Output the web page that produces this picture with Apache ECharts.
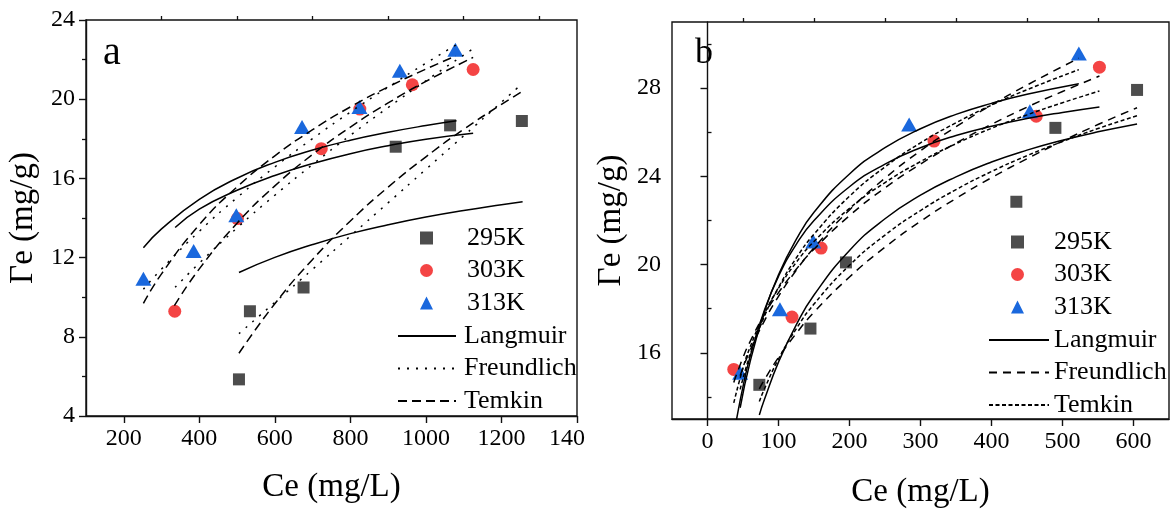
<!DOCTYPE html>
<html>
<head>
<meta charset="utf-8">
<script src="https://cdn.jsdelivr.net/npm/echarts@6/dist/echarts.min.js"></script>
<style>
  html, body { margin: 0; padding: 0; background: #fff; }
  #chart { width: 1175px; height: 514px; }
</style>
</head>
<body>
<div id="chart"></div>
<script>
// ---------- Panel a: measured adsorption points (Ce mg/L, Γe mg/g) ----------
const a295 = [[505,5.85],[534,9.29],[676,10.49],[920,17.6],[1064,18.68],[1254,18.9]];
const a303 = [[335,9.29],[501,13.97],[723,17.5],[825,19.5],[964,20.73],[1125,21.5]];
const a313 = [[252,10.93],[385,12.33],[498,14.14],[672,18.6],[824,19.6],[931,21.44],[1078,22.5]];

// Panel a: fitted isotherm curves
const aLangmuir295 = [[505,11.25],[600,12.01],[700,12.66],[800,13.21],[900,13.66],[1000,14.05],[1100,14.38],[1200,14.67],[1256,14.82]];
const aLangmuir303 = [[336,13.52],[400,14.45],[500,15.4],[600,16.15],[700,16.75],[800,17.25],[900,17.65],[1000,17.98],[1125,18.28]];
const aLangmuir313 = [[252,12.5],[300,13.45],[400,14.94],[500,16.01],[600,16.81],[700,17.43],[800,17.93],[900,18.33],[1000,18.67],[1081,18.91]];
const aFreundlich295 = [[505,8.16],[600,9.74],[700,11.41],[800,13.09],[900,14.77],[1000,16.46],[1100,18.15],[1200,19.85],[1254,20.77]];
const aFreundlich303 = [[336,10.5],[400,11.72],[500,13.5],[600,15.15],[700,16.7],[800,18.18],[900,19.58],[1000,20.93],[1125,22.55]];
const aFreundlich313 = [[252,10.4],[300,11.42],[400,13.33],[500,15.03],[600,16.58],[700,18.01],[800,19.35],[900,20.61],[1000,21.82],[1079,22.73]];
const aTemkin295 = [[505,7.17],[600,9.67],[700,11.91],[800,13.85],[900,15.56],[1000,17.09],[1100,18.48],[1200,19.74],[1254,20.38]];
const aTemkin303 = [[334,9.57],[400,11.43],[500,13.74],[600,15.62],[700,17.21],[800,18.59],[900,19.81],[1000,20.9],[1125,22.11]];
const aTemkin313 = [[252,9.69],[300,11.18],[400,13.66],[500,15.57],[600,17.14],[700,18.46],[800,19.61],[900,20.62],[1000,21.52],[1079,22.18]];

// ---------- Panel b: measured adsorption points ----------
const b295 = [[73,14.55],[145,17.1],[195,20.1],[435,22.85],[490,26.2],[605,27.92]];
const b303 = [[37,15.25],[119,17.62],[160,20.75],[319,25.6],[463,26.73],[552,28.95]];
const b313 = [[46,15.1],[102,17.98],[149,21.05],[284,26.35],[454,26.95],[523,29.57]];

// Panel b: fitted isotherm curves
const bLangmuir295 = [[73,13.18],[80,13.87],[100,15.58],[125,17.27],[150,18.62],[200,20.64],[250,22.08],[300,23.15],[350,23.98],[400,24.65],[450,25.19],[500,25.64],[550,26.02],[605,26.38]];
const bLangmuir303 = [[37,12.26],[41,13.0],[50,14.47],[60,15.83],[80,17.92],[100,19.47],[125,20.92],[150,22.0],[200,23.53],[250,24.56],[300,25.3],[350,25.85],[400,26.27],[450,26.62],[500,26.9],[552,27.15]];
const bLangmuir313 = [[46,13.51],[60,15.59],[80,17.84],[100,19.54],[125,21.14],[150,22.37],[200,24.11],[250,25.3],[300,26.16],[350,26.81],[400,27.31],[450,27.72],[523,28.2]];
const bFreundlich295 = [[73,14.37],[80,14.77],[100,15.79],[125,16.88],[150,17.84],[200,19.44],[250,20.79],[300,21.96],[350,23.0],[400,23.94],[450,24.8],[500,25.6],[550,26.35],[605,27.11]];
const bFreundlich303 = [[37,14.66],[50,15.79],[60,16.51],[80,17.73],[100,18.73],[125,19.79],[150,20.7],[200,22.22],[250,23.48],[300,24.56],[350,25.51],[400,26.36],[450,27.14],[500,27.85],[552,28.55]];
const bFreundlich313 = [[46,14.96],[60,16.11],[80,17.44],[100,18.56],[125,19.74],[150,20.76],[200,22.48],[250,23.92],[300,25.16],[350,26.25],[400,27.24],[450,28.14],[523,29.36]];
const bTemkin295 = [[73,13.79],[80,14.35],[100,15.72],[125,17.09],[150,18.21],[200,19.97],[250,21.34],[300,22.45],[350,23.4],[400,24.22],[450,24.94],[500,25.58],[550,26.17],[605,26.75]];
const bTemkin303 = [[37,13.73],[50,15.31],[60,16.26],[80,17.76],[100,18.93],[125,20.1],[150,21.05],[200,22.55],[250,23.72],[300,24.67],[350,25.48],[400,26.18],[450,26.79],[500,27.34],[552,27.87]];
const bTemkin313 = [[46,14.34],[60,15.92],[80,17.64],[100,18.97],[125,20.3],[150,21.38],[200,23.1],[250,24.43],[300,25.52],[350,26.43],[400,27.23],[450,27.93],[523,28.84]];

// ---------- Tick values ----------
const aXMajor = [200,400,600,800,1000,1200,1400];
const aXMinor = [300,500,700,900,1100,1300];
const bXMajor = [0,100,200,300,400,500,600];
const bXMinor = [50,150,250,350,450,550];
const bYMajor = [16,20,24,28];
const bYMinor = [14,18,22,26,30];

const FONT = '"Liberation Serif", "Times New Roman", serif';
const INK = '#111';
const pointNames = ['295K','303K','313K'];
const modelNames = ['Langmuir','Freundlich','Temkin'];

const chart = echarts.init(document.getElementById('chart'), null, {renderer: 'canvas'});

// tick labels go through a rich token so the serif face is used everywhere
const tickRich = {
  t: {fontFamily: FONT, fontSize: 24, color: '#000'},
  c: {fontFamily: FONT, fontSize: 24, color: '#000', padding: [0, 20, 0, 0]}
};
function tickFormatter(v) {
  if (v === 1400) return '{c|140}';
  return '{t|' + v + '}';
}
function labelStyle(extra) {
  return Object.assign({
    show: true, color: '#000', fontFamily: FONT, fontSize: 24, margin: 11,
    formatter: tickFormatter, rich: tickRich
  }, extra || {});
}
const nameStyle = {color: '#000', fontFamily: FONT, fontSize: 33};
const axisLine = {show: true, lineStyle: {color: INK, width: 1.4}};

function majorX(grid, min, max, ticks, gap) {
  return {
    type: 'value', gridIndex: grid, min: min, max: max,
    axisLine: axisLine,
    axisTick: {show: true, inside: false, length: 7, customValues: ticks, lineStyle: {color: INK, width: 1.4}},
    axisLabel: labelStyle({customValues: ticks}),
    splitLine: {show: false},
    name: 'Ce (mg/L)', nameLocation: 'middle', nameGap: gap, nameTextStyle: nameStyle
  };
}
function minorAxis(grid, min, max, ticks) {
  return {
    type: 'value', gridIndex: grid, min: min, max: max,
    axisLine: {show: false},
    axisTick: {show: true, inside: false, length: 4, customValues: ticks, lineStyle: {color: INK, width: 1.3}},
    axisLabel: {show: false},
    splitLine: {show: false}
  };
}

const scatterStyle = {
  '295K': {symbol: 'rect', symbolSize: 12, color: '#4d4d4d'},
  '303K': {symbol: 'circle', symbolSize: 13, color: '#f44444'},
  '313K': {symbol: 'triangle', symbolSize: [16, 14], color: '#1a68dd'}
};
function scatter(name, key, data, xi, yi) {
  const s = scatterStyle[key];
  return {
    type: 'scatter', name: name, data: data, xAxisIndex: xi, yAxisIndex: yi,
    symbol: s.symbol, symbolSize: s.symbolSize, itemStyle: {color: s.color, opacity: 1}, z: 2
  };
}
function curve(name, data, dash, xi, yi) {
  return {
    type: 'line', name: name, data: data, xAxisIndex: xi, yAxisIndex: yi,
    smooth: 0.5, symbol: 'none', showSymbol: false,
    lineStyle: {color: '#000', width: 1.5, type: dash, cap: 'butt'},
    itemStyle: {color: '#000'}, z: 3, silent: true
  };
}

const dashA = {Langmuir: 'solid', Freundlich: [2, 7], Temkin: [9, 5]};
const dashB = {Langmuir: 'solid', Freundlich: [8, 6], Temkin: [4, 2.5]};

const series = [
  scatter('295K', '295K', a295, 0, 0),
  scatter('303K', '303K', a303, 0, 0),
  scatter('313K', '313K', a313, 0, 0),
  curve('Langmuir', aLangmuir295, dashA.Langmuir, 0, 0),
  curve('Langmuir', aLangmuir303, dashA.Langmuir, 0, 0),
  curve('Langmuir', aLangmuir313, dashA.Langmuir, 0, 0),
  curve('Freundlich', aFreundlich295, dashA.Freundlich, 0, 0),
  curve('Freundlich', aFreundlich303, dashA.Freundlich, 0, 0),
  curve('Freundlich', aFreundlich313, dashA.Freundlich, 0, 0),
  curve('Temkin', aTemkin295, dashA.Temkin, 0, 0),
  curve('Temkin', aTemkin303, dashA.Temkin, 0, 0),
  curve('Temkin', aTemkin313, dashA.Temkin, 0, 0),

  scatter('b:295K', '295K', b295, 2, 1),
  scatter('b:303K', '303K', b303, 2, 1),
  scatter('b:313K', '313K', b313, 2, 1),
  curve('b:Langmuir', bLangmuir295, dashB.Langmuir, 2, 1),
  curve('b:Langmuir', bLangmuir303, dashB.Langmuir, 2, 1),
  curve('b:Langmuir', bLangmuir313, dashB.Langmuir, 2, 1),
  curve('b:Freundlich', bFreundlich295, dashB.Freundlich, 2, 1),
  curve('b:Freundlich', bFreundlich303, dashB.Freundlich, 2, 1),
  curve('b:Freundlich', bFreundlich313, dashB.Freundlich, 2, 1),
  curve('b:Temkin', bTemkin295, dashB.Temkin, 2, 1),
  curve('b:Temkin', bTemkin303, dashB.Temkin, 2, 1),
  curve('b:Temkin', bTemkin313, dashB.Temkin, 2, 1)
];

const stripPrefix = function (n) { return n.replace(/^b:/, ''); };
function legendText(padLeft) {
  return {color: '#000', fontFamily: FONT, fontSize: 26, lineHeight: 26, padding: [0, 0, 0, padLeft]};
}
// symbol legend: icons only as wide as the marker, text pushed right to line up with the curve legend
function pointLegend(left, top, prefix, pad) {
  return {
    orient: 'vertical', left: left, top: top, padding: 0, itemWidth: 13, itemHeight: 13, itemGap: 6.5,
    data: pointNames.map(function (n) { return prefix + n; }), selectedMode: false,
    textStyle: legendText(pad), formatter: stripPrefix
  };
}
function modelLegend(left, top, prefix, width, pad) {
  return {
    orient: 'vertical', left: left, top: top, padding: 0, itemWidth: width, itemHeight: 13, itemGap: 6.5,
    data: modelNames.map(function (n) { return prefix + n; }), selectedMode: false,
    itemStyle: {opacity: 0}, textStyle: legendText(pad), formatter: stripPrefix
  };
}

const option = {
  animation: false,
  backgroundColor: '#fff',
  textStyle: {fontFamily: FONT},
  grid: [
    {left: 86, top: 20, width: 491, height: 396, show: true, borderColor: INK, borderWidth: 1.4, containLabel: false},
    {left: 672, top: 22, width: 497, height: 399, show: true, borderColor: INK, borderWidth: 1.4, containLabel: false}
  ],
  xAxis: [
    majorX(0, 100, 1400, aXMajor, 55),
    minorAxis(0, 100, 1400, aXMinor),
    majorX(1, -50, 650, bXMajor, 57),
    minorAxis(1, -50, 650, bXMinor)
  ],
  yAxis: [
    {
      type: 'value', gridIndex: 0, min: 4, max: 24, interval: 4,
      axisLine: axisLine,
      axisTick: {show: true, inside: false, length: 7, lineStyle: {color: INK, width: 1.4}},
      minorTick: {show: true, splitNumber: 2, length: 4, lineStyle: {color: INK, width: 1.3}},
      axisLabel: labelStyle(),
      splitLine: {show: false}, minorSplitLine: {show: false},
      name: 'Γe (mg/g)', nameLocation: 'middle', nameGap: 46, nameTextStyle: nameStyle
    },
    {
      type: 'value', gridIndex: 1, min: 13, max: 31,
      axisLine: axisLine,
      axisTick: {show: true, inside: false, length: 7, customValues: bYMajor, lineStyle: {color: INK, width: 1.4}},
      axisLabel: labelStyle({customValues: bYMajor}),
      splitLine: {show: false},
      name: 'Γe (mg/g)', nameLocation: 'middle', nameGap: 44, nameTextStyle: nameStyle
    },
    minorAxis(1, 13, 31, bYMinor)
  ],
  legend: [
    pointLegend(420, 225, '', 29),
    modelLegend(397, 323, '', 58, 3),
    pointLegend(1011, 229, 'b:', 25),
    modelLegend(988, 327, 'b:', 60, 0)
  ],
  graphic: [
    {type: 'text', x: 112, y: 53, silent: true,
      style: {text: 'a', fontFamily: FONT, fontSize: 40, fill: '#000', textAlign: 'center', textVerticalAlign: 'middle'}},
    {type: 'text', x: 704, y: 54, silent: true,
      style: {text: 'b', fontFamily: FONT, fontSize: 36, fill: '#000', textAlign: 'center', textVerticalAlign: 'middle'}}
  ],
  series: series
};

chart.setOption(option);
</script>
</body>
</html>
